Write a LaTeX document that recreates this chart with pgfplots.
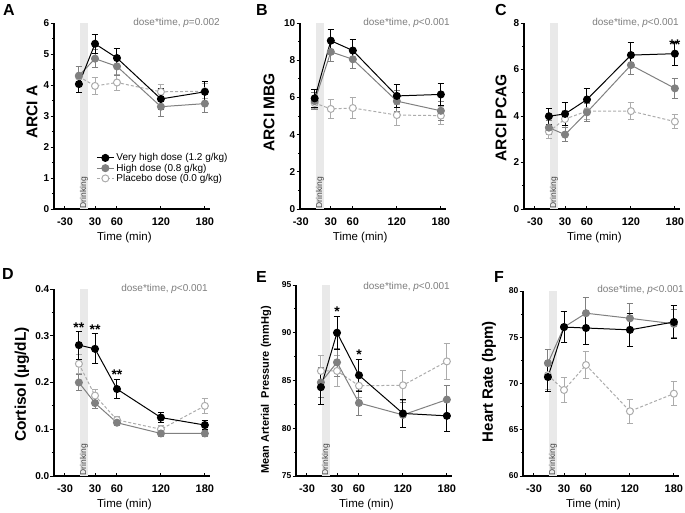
\documentclass[border=0pt]{standalone}
\usepackage{fontspec}
\setmainfont{Liberation Sans}
\usepackage{pgfplots}
\pgfplotsset{compat=1.18}

\definecolor{hgray}{RGB}{128,128,128}
\definecolor{pgray}{RGB}{172,172,172}
\definecolor{bargray}{RGB}{233,233,233}
\definecolor{anngray}{RGB}{125,125,125}

\tikzset{
  sig/.style={font=\bfseries\fontsize{14}{14}\selectfont, anchor=base, inner sep=0pt},
  drink/.style={rotate=90, anchor=west, font=\fontsize{8.5}{9}\selectfont, text=black!75, inner sep=0.5pt},
}

\pgfplotsset{
  panel/.style={
    scale only axis, width=156pt,
    axis lines*=left,
    axis line style={line width=1.1pt},
    xmin=-26, xmax=187,
    xtick={-11,11,30,60,120,180},
    xticklabels={-30,,30,60,120,180},
    xtick align=inside, ytick align=outside,
    major tick length=3.5pt, minor tick length=2pt,
    tick style={black, line width=1pt},
    minor y tick num=1,
    /pgf/number format/assume math mode=true,
    xticklabel style={font=\bfseries\fontsize{11}{12}\selectfont, yshift=-5pt},
    yticklabel style={font=\bfseries\fontsize{10}{12}\selectfont, inner xsep=1pt},
    xlabel={Time (min)},
    xlabel style={font=\fontsize{11.5}{13}\selectfont, at={(axis description cs:0.451,0)}, anchor=center, yshift=-29pt},
    ylabel style={font=\bfseries\fontsize{15.5}{17}\selectfont, anchor=center},
    clip=false,
  },
  errs/.style={error bars/.cd, y dir=both, y explicit,
    error bar style={line width=1pt, solid},
    error mark options={rotate=90, mark size=3.3pt, line width=1pt, solid}},
  vh/.style={black, line width=1pt, mark=*, mark size=3.5pt, mark options={solid, fill=black}, errs},
  hi/.style={hgray, line width=1pt, mark=*, mark size=3.5pt, mark options={solid, fill=hgray}, errs},
  pl/.style={pgray, line width=1pt, dash pattern=on 3pt off 2pt, mark=*, mark size=3.5pt, mark options={solid, fill=white, draw=pgray}, errs},
}

\begin{document}
\begin{tikzpicture}
\useasboundingbox (0pt,0pt) rectangle (685pt,-512pt);

% ---------------- A ----------------
\begin{axis}[panel, at={(54pt,-209pt)}, anchor=south west, height=186pt,
  ymin=0, ymax=6, ytick={0,1,...,6},
  ylabel={ARCI A}, ylabel style={at={(axis description cs:-0.141,0.52)}},
  legend style={draw=none, fill=none, at={(0.27,0.31)}, anchor=north west,
    font=\fontsize{10}{11}\selectfont, row sep=-2.5pt, inner sep=0pt},
  legend cell align=left,
  reverse legend]
\addplot[fill=bargray, draw=none, forget plot] coordinates {(9.5,0) (20.5,0) (20.5,6) (9.5,6)} -- cycle;
\node[drink] at (axis cs:15,0) {Drinking};
\addplot[pl] coordinates {(8,4.27) +- (0,0.33) (30,3.97) +- (0,0.27) (60,4.08) +- (0,0.27) (120,3.78) +- (0,0.25) (180,3.80) +- (0,0.25)};
\addlegendentry{Placebo dose (0.0 g/kg)}
\addplot[hi] coordinates {(8,4.30) +- (0,0.30) (30,4.85) +- (0,0.28) (60,4.60) +- (0,0.30) (120,3.30) +- (0,0.30) (180,3.40) +- (0,0.28)};
\addlegendentry{High dose (0.8 g/kg)}
\addplot[vh] coordinates {(8,4.03) +- (0,0.27) (30,5.33) +- (0,0.30) (60,4.87) +- (0,0.30) (120,3.55) +- (0,0.33) (180,3.78) +- (0,0.32)};
\addlegendentry{Very high dose (1.2 g/kg)}
\end{axis}

% ---------------- B ----------------
\begin{axis}[panel, at={(300pt,-209pt)}, anchor=south west, height=186pt,
  width=146pt, xmin=-12,
  xlabel style={at={(axis description cs:0.412,0)}},
  ymin=0, ymax=10, ytick={0,2,...,10},
  ylabel={ARCI MBG}, ylabel style={at={(axis description cs:-0.212,0.52)}}]
\addplot[fill=bargray, draw=none, forget plot] coordinates {(9.5,0) (20.5,0) (20.5,10) (9.5,10)} -- cycle;
\node[drink] at (axis cs:15,0) {Drinking};
\addplot[pl] coordinates {(8,5.70) +- (0,0.30) (30,5.38) +- (0,0.52) (60,5.43) +- (0,0.55) (120,5.05) +- (0,0.55) (180,5.02) +- (0,0.50)};
\addplot[hi] coordinates {(8,5.80) +- (0,0.45) (30,8.45) +- (0,0.50) (60,8.05) +- (0,0.50) (120,5.80) +- (0,0.55) (180,5.28) +- (0,0.50)};
\addplot[vh] coordinates {(8,5.95) +- (0,0.50) (30,9.05) +- (0,0.58) (60,8.52) +- (0,0.58) (120,6.08) +- (0,0.60) (180,6.16) +- (0,0.60)};
\end{axis}

% ---------------- C ----------------
\begin{axis}[panel, at={(524pt,-209pt)}, anchor=south west, height=186pt,
  ymin=0, ymax=8, ytick={0,2,...,8},
  ylabel={ARCI PCAG}, ylabel style={at={(axis description cs:-0.147,0.49)}}]
\addplot[fill=bargray, draw=none, forget plot] coordinates {(9.5,0) (20.5,0) (20.5,8) (9.5,8)} -- cycle;
\node[drink] at (axis cs:15,0) {Drinking};
\addplot[pl] coordinates {(8,3.33) +- (0,0.30) (30,3.87) +- (0,0.35) (60,4.21) +- (0,0.35) (120,4.21) +- (0,0.38) (180,3.76) +- (0,0.30)};
\addplot[hi] coordinates {(8,3.50) +- (0,0.30) (30,3.20) +- (0,0.30) (60,4.16) +- (0,0.38) (120,6.19) +- (0,0.42) (180,5.19) +- (0,0.42)};
\addplot[vh] coordinates {(8,3.99) +- (0,0.35) (30,4.09) +- (0,0.50) (60,4.71) +- (0,0.47) (120,6.62) +- (0,0.52) (180,6.68) +- (0,0.50)};
\node[sig] at (axis cs:180,6.85) {**};
\end{axis}

% ---------------- D ----------------
\begin{axis}[panel, at={(54pt,-476pt)}, anchor=south west, height=187pt,
  ymin=0, ymax=0.4, ytick={0,0.1,...,0.4},
  yticklabel style={/pgf/number format/.cd, fixed, fixed zerofill, precision=1},
  ylabel={Cortisol (µg/dL)}, ylabel style={at={(axis description cs:-0.205,0.49)}}]
\addplot[fill=bargray, draw=none, forget plot] coordinates {(9.5,0) (20.5,0) (20.5,0.4) (9.5,0.4)} -- cycle;
\node[drink] at (axis cs:15,0) {Drinking};
\addplot[pl] coordinates {(8,0.240) +- (0,0.020) (30,0.172) +- (0,0.013) (60,0.120) +- (0,0.007) (120,0.100) +- (0,0.007) (180,0.150) +- (0,0.016)};
\addplot[hi] coordinates {(8,0.200) +- (0,0.018) (30,0.156) +- (0,0.012) (60,0.114) +- (0,0.007) (120,0.091) +- (0,0.006) (180,0.091) +- (0,0.006)};
\addplot[vh] coordinates {(8,0.280) +- (0,0.030) (30,0.272) +- (0,0.032) (60,0.186) +- (0,0.021) (120,0.125) +- (0,0.011) (180,0.109) +- (0,0.009)};
\node[sig] at (axis cs:8,0.307) {**};
\node[sig] at (axis cs:30,0.303) {**};
\node[sig] at (axis cs:60,0.206) {**};
\end{axis}

% ---------------- E ----------------
\begin{axis}[panel, at={(296pt,-476pt)}, anchor=south west, height=191pt,
  ymin=75, ymax=95, ytick={75,80,...,95}, minor y tick num=1,
  yticklabel style={font=\bfseries\fontsize{8.5}{10}\selectfont},
  ylabel={Mean Arterial~ Pressure (mmHg)},
  ylabel style={font=\bfseries\fontsize{11}{13}\selectfont, at={(axis description cs:-0.192,0.45)}}]
\addplot[fill=bargray, draw=none, forget plot] coordinates {(9.5,75) (20.5,75) (20.5,95) (9.5,95)} -- cycle;
\node[drink] at (axis cs:15,75) {Drinking};
\addplot[pl] coordinates {(8,86.0) +- (0,1.6) (30,86.0) +- (0,1.6) (60,84.45) +- (0,1.2) (120,84.5) +- (0,1.55) (180,87.0) +- (0,1.9)};
\addplot[hi] coordinates {(8,84.8) +- (0,1.6) (30,86.9) +- (0,1.5) (60,82.65) +- (0,1.35) (120,81.4) +- (0,1.3) (180,83.0) +- (0,1.5)};
\addplot[vh] coordinates {(8,84.3) +- (0,1.8) (30,90.0) +- (0,1.75) (60,85.55) +- (0,1.65) (120,81.55) +- (0,1.45) (180,81.3) +- (0,1.6)};
\node[sig] at (axis cs:30,91.75) {*};
\node[sig] at (axis cs:60,87.2) {*};
\end{axis}

% ---------------- F ----------------
\begin{axis}[panel, at={(523pt,-476pt)}, anchor=south west, height=185pt,
  ymin=60, ymax=80, ytick={60,65,...,80}, minor y tick num=1,
  yticklabel style={font=\bfseries\fontsize{8.5}{10}\selectfont},
  ylabel={Heart Rate (bpm)},
  ylabel style={font=\bfseries\fontsize{15}{17}\selectfont, at={(axis description cs:-0.218,0.51)}}]
\addplot[fill=bargray, draw=none, forget plot] coordinates {(9.5,60) (20.5,60) (20.5,80) (9.5,80)} -- cycle;
\node[drink] at (axis cs:15,60) {Drinking};
\addplot[pl] coordinates {(8,70.9) +- (0,1.5) (30,69.3) +- (0,1.4) (60,72.0) +- (0,1.45) (120,67.0) +- (0,1.3) (180,68.9) +- (0,1.3)};
\addplot[hi] coordinates {(8,72.2) +- (0,1.5) (30,76.1) +- (0,1.7) (60,77.6) +- (0,1.7) (120,77.05) +- (0,1.55) (180,76.45) +- (0,1.5)};
\addplot[vh] coordinates {(8,70.7) +- (0,1.6) (30,76.1) +- (0,1.7) (60,76.0) +- (0,1.8) (120,75.8) +- (0,1.8) (180,76.65) +- (0,1.75)};
\end{axis}

% panel letters
\begin{scope}[every node/.style={font=\bfseries\fontsize{16}{16}\selectfont, anchor=base west, inner sep=0pt}]
\node at (3pt,-15pt) {A};
\node at (256pt,-15pt) {B};
\node at (495pt,-15pt) {C};
\node at (2pt,-279pt) {D};
\node at (256pt,-282pt) {E};
\node at (494pt,-282pt) {F};
\end{scope}

% interaction annotations
\begin{scope}[every node/.style={font=\fontsize{10}{11}\selectfont, text=anngray, anchor=base east, inner sep=0pt}]
\node at (220pt,-25pt) {dose*time, \textit{p}=0.002};
\node at (450pt,-25pt) {dose*time, \textit{p}<0.001};
\node at (679pt,-25pt) {dose*time, \textit{p}<0.001};
\node at (208pt,-291pt) {dose*time, \textit{p}<0.001};
\node at (450pt,-289pt) {dose*time, \textit{p}<0.001};
\node at (684pt,-292pt) {dose*time, \textit{p}<0.001};
\end{scope}
\end{tikzpicture}
\end{document}
